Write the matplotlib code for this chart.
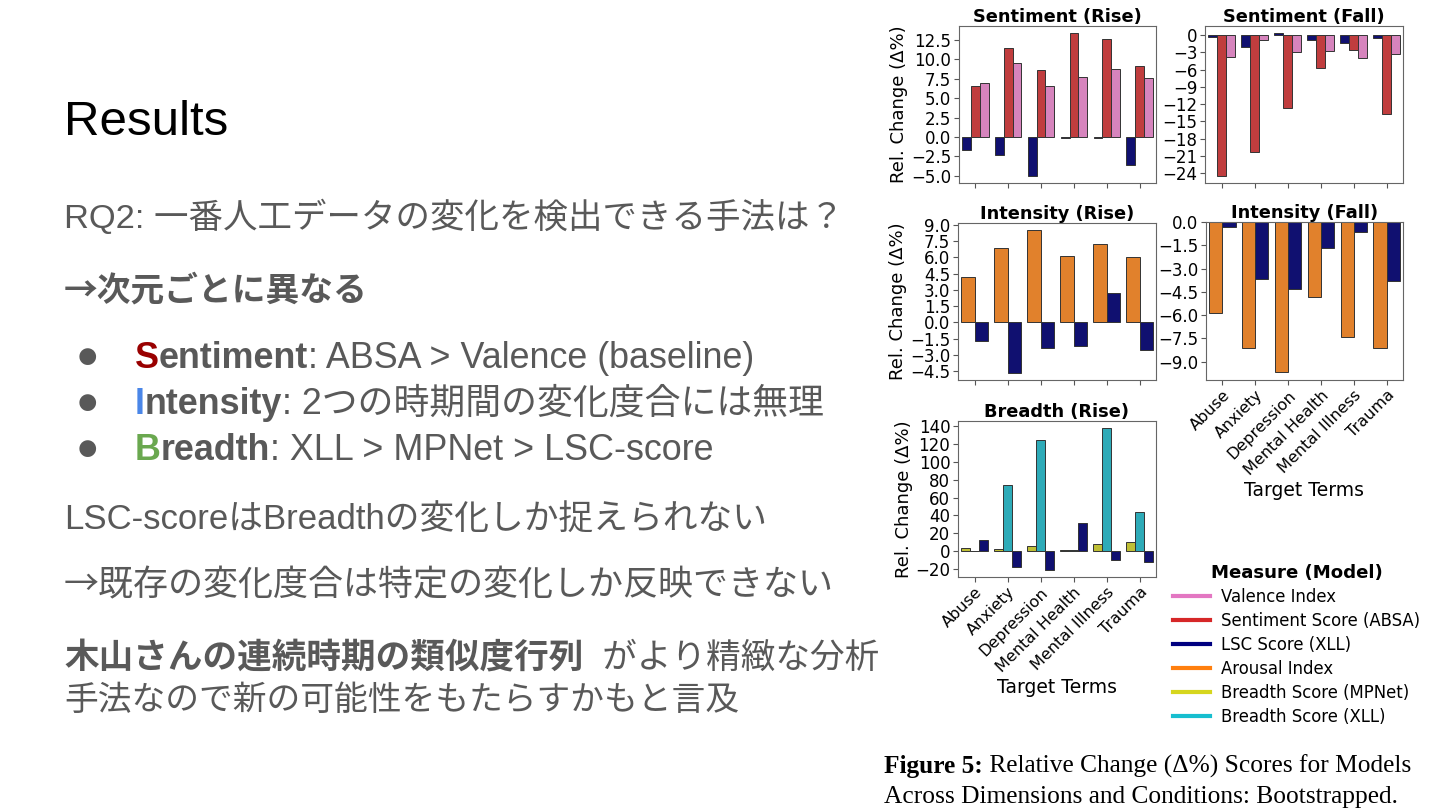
import colorsys

import matplotlib
matplotlib.use('Agg')
import matplotlib.pyplot as plt
from matplotlib.colors import to_rgb
from matplotlib.lines import Line2D
from matplotlib.ticker import MultipleLocator
import numpy as np


# Slide: results of RQ2, left = notes, right = figure 5 of the paper

terms = ['Abuse', 'Anxiety', 'Depression', 'Mental Health', 'Mental Illness', 'Trauma']

# Sentiment (Rise)
sent_rise_lsc = [-1.7, -2.35, -5.0, -0.15, -0.15, -3.6]
sent_rise_absa = [6.6, 11.5, 8.65, 13.35, 12.55, 9.15]
sent_rise_valence = [6.95, 9.45, 6.55, 7.7, 8.7, 7.6]

# Sentiment (Fall)
sent_fall_lsc = [-0.35, -2.0, 0.35, -0.8, -1.35, -0.45]
sent_fall_absa = [-24.5, -20.4, -12.7, -5.65, -2.55, -13.7]
sent_fall_valence = [-3.8, -0.8, -3.0, -2.75, -4.0, -3.35]

# Intensity (Rise / Fall)
int_rise_arousal = [4.2, 6.9, 8.5, 6.15, 7.2, 6.05]
int_rise_lsc = [-1.7, -4.65, -2.35, -2.15, 2.7, -2.5]
int_fall_arousal = [-5.85, -8.15, -9.7, -4.85, -7.4, -8.1]
int_fall_lsc = [-0.3, -3.65, -4.3, -1.65, -0.65, -3.8]

# Breadth (Rise)
br_rise_mpnet = [3.7, 3.0, 5.9, 1.5, 8.1, 10.7]
br_rise_xll = [0.3, 74.4, 124.5, 1.5, 137.5, 44.0]
br_rise_lsc = [13.0, -18.0, -20.7, 31.5, -10.0, -11.5]

measures = ['Valence Index', 'Sentiment Score (ABSA)', 'LSC Score (XLL)',
            'Arousal Index', 'Breadth Score (MPNet)', 'Breadth Score (XLL)']
palette = {
    'Valence Index': '#e377c2',
    'Sentiment Score (ABSA)': '#d62728',
    'LSC Score (XLL)': '#000080',
    'Arousal Index': '#ff7f0e',
    'Breadth Score (MPNet)': '#d6d61e',
    'Breadth Score (XLL)': '#17becf',
}

W, H = 1440, 810
FAM = ['Liberation Sans', 'Noto Sans CJK JP']
CJK = ['Noto Sans CJK JP', 'Liberation Sans']
GRAY = '#595959'


def desat(c, prop=0.75):
    h, l, s = colorsys.rgb_to_hls(*to_rgb(c))
    return colorsys.hls_to_rgb(h, l, s * prop)


def box(left, top, right, bottom):
    # pixel box -> figure fraction
    return [left / W, 1 - bottom / H, (right - left) / W, (bottom - top) / H]


def grouped(ax, series, names, title, step):
    n = len(series)
    w = 0.8 / n
    x = np.arange(len(terms))
    for i, (vals, name) in enumerate(zip(series, names)):
        ax.bar(x - 0.4 + w * (i + 0.5), vals, w, color=desat(palette[name]),
               edgecolor='#333333', linewidth=0.7)
    ax.set_xlim(-0.5, len(terms) - 0.5)
    ax.set_xticks(x)
    ax.set_xticklabels([])
    ax.yaxis.set_major_locator(MultipleLocator(step))
    ax.set_title(title, fontsize=12.8, fontweight='bold', pad=3)
    ax.tick_params(labelsize=12, color='#555555', pad=2)
    for sp in ax.spines.values():
        sp.set_color('#666666')


def term_labels(ax):
    ax.set_xticklabels(terms, rotation=45, ha='right', rotation_mode='anchor', fontsize=11.5)
    ax.set_xlabel('Target Terms', fontsize=13.5, labelpad=2)


fig = plt.figure(figsize=(W / 100, H / 100), dpi=100)
fig.patch.set_facecolor('white')

ax1 = fig.add_axes(box(959, 26, 1156, 183))
grouped(ax1, [sent_rise_lsc, sent_rise_absa, sent_rise_valence],
        ['LSC Score (XLL)', 'Sentiment Score (ABSA)', 'Valence Index'], 'Sentiment (Rise)', 2.5)
ax1.set_ylabel('Rel. Change (Δ%)', fontsize=13, labelpad=2)

ax2 = fig.add_axes(box(1205, 26, 1403, 183))
grouped(ax2, [sent_fall_lsc, sent_fall_absa, sent_fall_valence],
        ['LSC Score (XLL)', 'Sentiment Score (ABSA)', 'Valence Index'], 'Sentiment (Fall)', 3)

ax3 = fig.add_axes(box(958, 223, 1156, 380))
grouped(ax3, [int_rise_arousal, int_rise_lsc],
        ['Arousal Index', 'LSC Score (XLL)'], 'Intensity (Rise)', 1.5)
ax3.set_ylabel('Rel. Change (Δ%)', fontsize=13, labelpad=2)

ax4 = fig.add_axes(box(1206, 222, 1403, 380))
grouped(ax4, [int_fall_arousal, int_fall_lsc],
        ['Arousal Index', 'LSC Score (XLL)'], 'Intensity (Fall)', 1.5)
term_labels(ax4)

ax5 = fig.add_axes(box(958, 421, 1156, 577))
grouped(ax5, [br_rise_mpnet, br_rise_xll, br_rise_lsc],
        ['Breadth Score (MPNet)', 'Breadth Score (XLL)', 'LSC Score (XLL)'], 'Breadth (Rise)', 20)
ax5.set_ylabel('Rel. Change (Δ%)', fontsize=13, labelpad=2)
term_labels(ax5)

handles = [Line2D([], [], color=palette[m], lw=3) for m in measures]
leg = fig.legend(handles, measures, loc='upper center', bbox_to_anchor=(1297 / W, 1 - 549 / H),
                 frameon=False, fontsize=11.9, title='Measure (Model)',
                 title_fontproperties={'weight': 'bold', 'size': 13.1},
                 handlelength=2.2, handletextpad=0.7, labelspacing=0.36)

renderer = fig.canvas.get_renderer()


def runs(x, y, parts, size, family=FAM):
    for txt, weight, color in parts:
        fam = CJK if txt.startswith('→') else family
        t = fig.text(x / W, 1 - y / H, txt, fontsize=size, fontweight=weight, color=color,
                     family=fam, va='baseline', ha='left')
        x = t.get_window_extent(renderer).x1
    return x


# caption
SERIF = ['Liberation Serif', 'DejaVu Serif']
runs(884, 773, [('Figure 5:', 'bold', 'black'),
                (' Relative Change (Δ%) Scores for Models', 'normal', 'black')], 18.3, SERIF)
runs(884, 803, [('Across Dimensions and Conditions: Bootstrapped.', 'normal', 'black')], 18.3, SERIF)

# slide text
fig.text(64 / W, 1 - 135 / H, 'Results', fontsize=35.5, color='black', family=FAM, va='baseline')
runs(64, 228, [('RQ2: 一番人工データの変化を検出できる手法は？', 'normal', GRAY)], 24.8)
runs(64, 301, [('→次元ごとに異なる', 'bold', GRAY)], 24.3)

bullets = [
    (368, [('S', 'bold', '#990000'), ('entiment', 'bold', GRAY), (': ABSA > Valence (baseline)', 'normal', GRAY)]),
    (414, [('I', 'bold', '#4a86e8'), ('ntensity', 'bold', GRAY), (': 2つの時期間の変化度合には無理', 'normal', GRAY)]),
    (460, [('B', 'bold', '#6aa84f'), ('readth', 'bold', GRAY), (': XLL > MPNet > LSC-score', 'normal', GRAY)]),
]
for y, parts in bullets:
    fig.text(76 / W, 1 - y / H, '●', fontsize=28, color=GRAY, family=FAM, va='baseline')
    runs(135, y, parts, 25.8)

runs(64, 530, [('LSC-scoreはBreadthの変化しか捉えられない', 'normal', GRAY)], 25.0)
runs(64, 595, [('→既存の変化度合は特定の変化しか反映できない', 'normal', GRAY)], 25.2)
runs(64, 668, [('木山さんの連続時期の類似度行列', 'bold', GRAY), ('  がより精緻な分析', 'normal', GRAY)], 24.9)
runs(64, 710, [('手法なので新の可能性をもたらすかもと言及', 'normal', GRAY)], 24.3)

fig.savefig('out.png', dpi=100)
